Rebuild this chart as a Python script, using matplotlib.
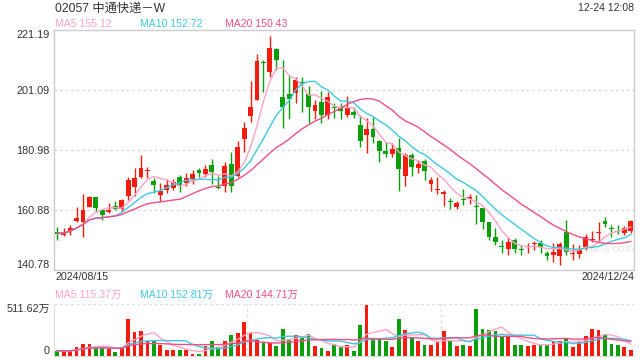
import numpy as np
import pandas as pd
import matplotlib
matplotlib.use('Agg')
import matplotlib.pyplot as plt

plt.rcParams['font.family'] = ['Liberation Sans', 'Noto Sans CJK SC']

# daily k-line 02057, 2024/08/15 .. 2024/12/24
opens = [153.1, 152.6, 154.0, 157.2, 157.0, 162.0, 165.1, 160.9, 160.3, 162.1,
         161.2, 165.7, 168.7, 171.8, 173.9, 170.6, 165.9, 167.6, 168.4, 171.9,
         169.8, 171.3, 174.3, 173.0, 176.1, 168.5, 168.9, 176.3, 172.4, 184.7,
         192.5, 197.7, 210.1, 207.2, 214.8, 198.9, 199.8, 200.0, 203.4, 199.8,
         194.1, 197.2, 192.7, 195.0, 195.2, 192.7, 193.8, 189.4, 186.0, 188.0,
         184.0, 180.75, 179.6, 181.6, 172.4, 179.3, 175.1, 177.4, 169.5, 167.7,
         166.2, 163.6, 162.0, 164.2, 164.6, 161.9, 161.4, 156.8, 151.9, 148.7,
         147.8, 150.8, 147.6, 148.5, 149.6, 149.7, 146.6, 145.8, 145.5, 153.5,
         146.1, 146.1, 148.6, 150.7, 153.2, 157.1, 154.6, 153.7, 153.3, 153.9]
highs = [155.2, 154.8, 156.0, 162.0, 166.2, 165.5, 165.3, 161.2, 163.1, 164.0,
         164.5, 172.0, 175.0, 179.3, 175.3, 171.5, 169.8, 171.2, 171.2, 172.6,
         173.3, 174.3, 174.9, 176.0, 178.0, 172.3, 176.9, 180.4, 184.0, 190.3,
         204.2, 213.1, 211.0, 219.2, 215.0, 211.1, 205.8, 205.5, 205.5, 202.4,
         197.7, 200.9, 200.5, 196.6, 196.8, 199.1, 195.5, 192.7, 191.6, 192.2,
         184.5, 183.8, 183.2, 184.9, 180.1, 180.1, 177.6, 178.0, 172.0, 171.8,
         167.6, 164.8, 163.9, 167.8, 166.2, 165.9, 161.6, 157.0, 154.7, 150.8,
         151.7, 151.4, 149.2, 149.7, 150.6, 150.8, 147.0, 149.7, 150.3, 157.5,
         149.5, 149.2, 152.8, 153.9, 156.7, 158.6, 155.9, 155.9, 155.6, 157.5]
lows = [150.8, 152.3, 152.5, 156.8, 151.8, 161.8, 160.3, 157.5, 159.8, 161.0,
        160.1, 164.2, 165.5, 171.5, 171.6, 166.5, 164.0, 166.7, 167.6, 166.8,
        169.0, 169.5, 171.8, 172.1, 169.6, 167.8, 167.0, 167.0, 172.0, 180.4,
        190.3, 197.7, 200.5, 205.5, 207.8, 188.3, 191.3, 196.6, 193.8, 190.1,
        191.3, 190.1, 191.3, 191.8, 191.3, 192.2, 191.6, 181.9, 180.1, 183.4,
        177.1, 178.7, 178.7, 167.3, 168.9, 172.2, 173.4, 170.9, 167.3, 166.2,
        162.2, 161.1, 161.3, 162.6, 163.0, 156.2, 154.4, 150.8, 149.2, 146.4,
        145.8, 146.4, 145.8, 146.6, 147.5, 146.6, 144.1, 143.6, 142.5, 145.8,
        144.1, 144.7, 147.5, 150.1, 150.3, 155.3, 152.0, 152.9, 152.6, 153.3]
closes = [153.0, 153.4, 154.8, 158.2, 160.9, 165.1, 161.7, 159.3, 161.0, 161.3,
          164.2, 170.9, 171.6, 174.9, 174.0, 169.3, 167.3, 169.3, 170.1, 169.0,
          171.6, 173.0, 173.2, 174.6, 173.5, 168.4, 175.6, 168.9, 182.1, 188.3,
          195.3, 210.8, 210.0, 215.1, 211.1, 195.5, 198.1, 204.4, 203.3, 195.5,
          196.1, 192.7, 198.9, 194.9, 194.2, 195.2, 192.7, 184.1, 188.0, 185.4,
          180.75, 179.6, 181.2, 174.6, 179.4, 175.4, 176.3, 174.05, 170.9, 167.8,
          166.8, 163.5, 163.3, 164.1, 165.4, 161.8, 157.0, 151.9, 150.3, 148.6,
          150.1, 147.8, 147.5, 148.6, 149.7, 148.6, 145.5, 146.9, 149.5, 146.8,
          146.6, 147.5, 151.7, 150.8, 153.3, 156.1, 154.5, 153.6, 154.8, 157.1]
# volume, 万股
volumes = [51, 51, 51, 84, 118, 118, 84, 84, 68, 44,
           84, 365, 236, 243, 152, 145, 111, 57, 57, 57,
           61, 24, 24, 101, 145, 91, 152, 203, 226, 338,
           226, 159, 132, 132, 95, 263, 172, 203, 179, 213,
           101, 74, 51, 118, 101, 111, 51, 304, 506, 179,
           179, 145, 91, 365, 253, 186, 145, 111, 111, 145,
           246, 145, 101, 111, 101, 466, 263, 253, 246, 196,
           196, 111, 111, 101, 111, 111, 111, 152, 152, 179,
           84, 145, 193, 267, 253, 203, 118, 111, 84, 61]

price_ticks = [140.78, 160.88, 180.98, 201.09, 221.19]
vol_max = 511.62
title = '02057 中通快递－W'
stamp = '12-24 12:08'
start_date, end_date = '2024/08/15', '2024/12/24'
ma_price_text = ['MA5 155.12', 'MA10 152.72', 'MA20 150.43']
ma_vol_text = ['MA5 115.37万', 'MA10 152.81万', 'MA20 144.71万']

RED = '#f21d0f'
GREEN = '#0b9e0b'
MA_COLORS = ['#ffa3c4', '#3ec8e0', '#ef4f86']
TXT = '#333333'
GRID = '#dddddd'

x = np.arange(len(closes))
o = np.array(opens)
c = np.array(closes)
colors = [RED if cc >= oo else GREEN for oo, cc in zip(o, c)]

fig = plt.figure(figsize=(6.4, 3.6), dpi=100)
ax = fig.add_axes([54 / 640, 1 - 270 / 360, 580 / 640, 240 / 360])
axv = fig.add_axes([54 / 640, 1 - 356 / 360, 580 / 640, 52 / 360])

# candles
ax.vlines(x, lows, highs, colors=colors, lw=1, zorder=3)
body_lo = np.minimum(o, c)
body_h = np.maximum(np.abs(c - o), 0.35)
ax.bar(x, body_h, bottom=body_lo, width=0.75, color=colors, zorder=4)

# moving averages
close_s = pd.Series(closes)
for n, col in zip([5, 10, 20], MA_COLORS):
    ax.plot(x, close_s.rolling(n, min_periods=1).mean(), color=col, lw=1, zorder=5)

ax.set_xlim(-0.5, len(closes) - 0.5)
ax.set_ylim(price_ticks[0], price_ticks[-1])
ax.set_yticks(price_ticks)
ax.set_yticklabels([f'{v:.2f}' for v in price_ticks])
ax.tick_params(axis='y', length=0, pad=3, labelsize=7.8, labelcolor=TXT)
ax.tick_params(axis='x', length=0, labelbottom=False)
labels = ax.get_yticklabels()
labels[0].set_va('bottom')
labels[-1].set_va('top')
for v in price_ticks[1:-1]:
    ax.axhline(v, color=GRID, lw=1, ls=(0, (2, 2)), zorder=1)
for sp in ax.spines.values():
    sp.set_color('#cccccc')
    sp.set_linewidth(1)
ax.text(82.6, 147.8, 'sina.com', color='#e6e6e6', fontsize=8, va='center', zorder=2)

# volume panel
axv.bar(x, volumes, width=0.6, color=colors, zorder=3)
vol_s = pd.Series(volumes)
for n, col in zip([5, 10, 20], MA_COLORS):
    axv.plot(x, vol_s.rolling(n, min_periods=1).mean(), color=col, lw=1, zorder=4)
axv.set_xlim(-0.5, len(closes) - 0.5)
axv.set_ylim(0, vol_max)
axv.set_yticks([0, vol_max])
axv.set_yticklabels(['0', f'{vol_max:.2f}万'])
axv.tick_params(axis='y', length=0, pad=3, labelsize=7.8, labelcolor=TXT)
axv.tick_params(axis='x', length=0, labelbottom=False)
vl = axv.get_yticklabels()
vl[0].set_va('bottom')
vl[1].set_va('top')
axv.axhline(vol_max, color=GRID, lw=1, ls=(0, (2, 2)), zorder=1)
lo, hi = axv.get_xlim()
for k in (1, 2):
    axv.axvline(lo + (hi - lo) * k / 3, color=GRID, lw=1, ls=(0, (2, 2)), zorder=1)
axv.spines['top'].set_visible(False)
axv.spines['right'].set_visible(False)
axv.spines['left'].set_color('#dddddd')
axv.spines['bottom'].set_color('#dddddd')

# header and legends
fig.text(55 / 640, 1 - 9 / 360, title, fontsize=8.8, color=TXT, va='center')
fig.text(634 / 640, 1 - 8 / 360, stamp, fontsize=7.5, color=TXT, va='center', ha='right')
for t, col, px in zip(ma_price_text, MA_COLORS, [55, 140, 225]):
    fig.text(px / 640, 1 - 24 / 360, t, fontsize=7.6, color=col, va='center')
fig.text(55 / 640, 1 - 277 / 360, start_date, fontsize=7.7, color=TXT, va='center')
fig.text(634 / 640, 1 - 277 / 360, end_date, fontsize=7.7, color=TXT, va='center', ha='right')
for t, col, px in zip(ma_vol_text, MA_COLORS, [55, 140, 225]):
    fig.text(px / 640, 1 - 295 / 360, t, fontsize=7.6, color=col, va='center')

fig.savefig('out.png', dpi=100)
